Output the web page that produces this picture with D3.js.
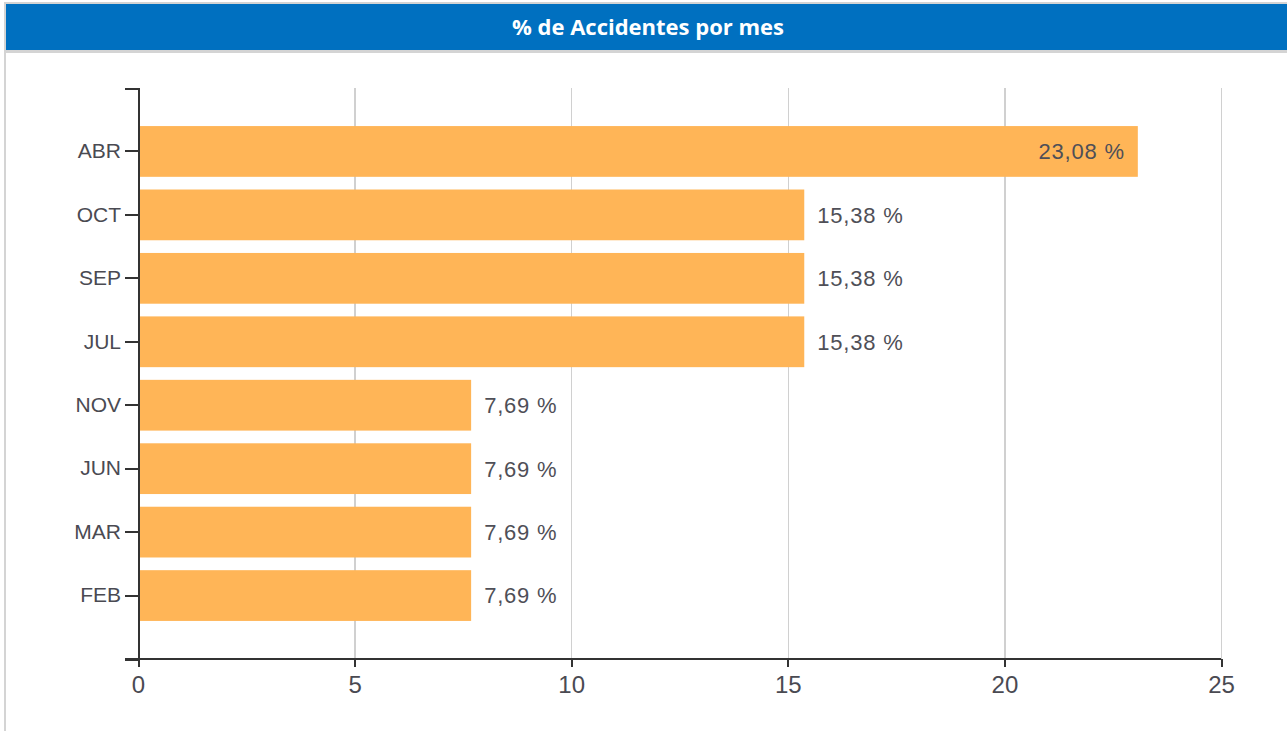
<!DOCTYPE html>
<html>
<head>
<meta charset="utf-8">
<script src="https://d3js.org/d3.v7.min.js"></script>
<style>
body { margin: 0; background: #fff; font-family: "Liberation Sans", Arial, sans-serif; }
.axis path, .axis line { stroke: #333; stroke-width: 2; shape-rendering: crispEdges; }
.axis text { fill: #4a4a52; font-family: "Liberation Sans", Arial, sans-serif; }
.grid line { stroke: #d0d0d0; stroke-width: 1.5; shape-rendering: crispEdges; }
.grid path { stroke-width: 0; }
</style>
</head>
<body>
<svg id="chart" width="1287" height="731"></svg>
<script>
// datos
var meses = ["ABR", "OCT", "SEP", "JUL", "NOV", "JUN", "MAR", "FEB"];
var porcentajes = [23.08, 15.38, 15.38, 15.38, 7.69, 7.69, 7.69, 7.69];
var ticksX = [0, 5, 10, 15, 20, 25];

var svg = d3.select("#chart");

// marco y cabecera
svg.append("rect").attr("x", 5).attr("y", 3).attr("width", 1290).attr("height", 740)
  .attr("fill", "#fff").attr("stroke", "#d4d4d4").attr("stroke-width", 2);
svg.append("rect").attr("x", 6).attr("y", 4).attr("width", 1281).attr("height", 46)
  .attr("fill", "#0070c0");
svg.append("rect").attr("x", 6).attr("y", 50).attr("width", 1281).attr("height", 3)
  .attr("fill", "#d4d4d4");
svg.append("text")
  .attr("x", 648).attr("y", 35)
  .attr("text-anchor", "middle")
  .attr("fill", "#fff")
  .attr("font-family", "'Open Sans', sans-serif")
  .attr("font-weight", "bold")
  .attr("font-size", "22px")
  .text("% de Accidentes por mes");

var mLeft = 138, mRight = 1221, mTop = 88, mBottom = 659;

var x = d3.scaleLinear().domain([0, 25]).range([mLeft, mRight]);
var y = d3.scaleBand().domain(meses).range([mTop, mBottom])
  .paddingInner(0.2).paddingOuter(0.6);

// lineas de la rejilla
svg.append("g")
  .attr("class", "grid")
  .attr("transform", "translate(0," + mBottom + ")")
  .call(d3.axisBottom(x).tickValues(ticksX.slice(1)).tickSize(-(mBottom - mTop)).tickFormat(""));

// barras
svg.selectAll(".bar").data(meses).enter().append("rect")
  .attr("class", "bar")
  .attr("x", x(0))
  .attr("y", function(d) { return y(d); })
  .attr("width", function(d, i) { return x(porcentajes[i]) - x(0); })
  .attr("height", y.bandwidth())
  .attr("fill", "#ffb557");

// etiquetas de valor
svg.selectAll(".val").data(meses).enter().append("text")
  .attr("class", "val")
  .attr("x", function(d, i) {
    var w = x(porcentajes[i]);
    return porcentajes[i] > 20 ? w - 13 : w + 13;
  })
  .attr("y", function(d) { return y(d) + y.bandwidth() / 2; })
  .attr("dy", "0.36em")
  .attr("text-anchor", function(d, i) { return porcentajes[i] > 20 ? "end" : "start"; })
  .attr("fill", "#4f4f57")
  .attr("font-size", "22px")
  .attr("letter-spacing", "0.8px")
  .text(function(d, i) { return d3.format(".2f")(porcentajes[i]).replace(".", ",") + " %"; });

// eje y
var ay = svg.append("g")
  .attr("class", "axis")
  .attr("transform", "translate(" + mLeft + ",0)")
  .call(d3.axisLeft(y).tickSize(13).tickSizeOuter(13).tickPadding(4));
ay.selectAll("text").attr("font-size", "21px");

// eje x
var ax = svg.append("g")
  .attr("class", "axis")
  .attr("transform", "translate(0," + mBottom + ")")
  .call(d3.axisBottom(x).tickValues(ticksX).tickSize(8).tickSizeOuter(0).tickPadding(9));
ax.selectAll("text").attr("font-size", "24px");
ax.select(".domain").attr("d", "M" + (mLeft - 13) + ",0H" + mRight);
</script>
</body>
</html>
